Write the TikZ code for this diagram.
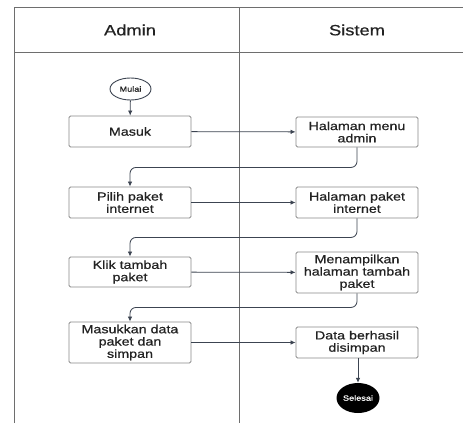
\documentclass[tikz,border=0pt]{standalone}
\usepackage{fontspec}
\usetikzlibrary{shapes.geometric,arrows.meta}
\newfontfamily\lanefont{Liberation Sans}[FakeStretch=1.22,FakeBold=0.6]
\definecolor{laneline}{HTML}{6E6E6E}
\definecolor{boxline}{HTML}{8A8A8A}
\definecolor{flowline}{HTML}{3C4451}
\definecolor{txt}{HTML}{222222}
\begin{document}
\begin{tikzpicture}[x=1pt,y=-1pt,
  lane/.style={draw=laneline,line width=0.9pt},
  actbox/.style={draw=boxline,line width=0.9pt,rounded corners=1.5pt,fill=white,
    minimum width=122pt,inner sep=0pt,align=center,text=txt,
    font=\lanefont\fontsize{11.7}{12.3}\selectfont},
  header/.style={text=txt,font=\lanefont\fontsize{15}{17}\selectfont},
  flow/.style={draw=flowline,line width=0.8pt,-{Latex[length=5pt,width=4.5pt]}},
  startnode/.style={ellipse,draw=flowline,line width=0.9pt,fill=white,
    minimum width=41pt,minimum height=22pt,inner sep=0pt,text=txt,
    font=\lanefont\fontsize{7.5}{8}\selectfont},
  endnode/.style={ellipse,fill=black,minimum width=43pt,minimum height=30pt,
    inner sep=0pt,text=white,font=\lanefont\fontsize{7.5}{8}\selectfont}]
\useasboundingbox (0,0) rectangle (463,423);
\fill[white] (0,0) rectangle (463,423);

% swimlane frame
\draw[lane] (14,423) -- (14,7) -- (463,7);
\draw[lane] (14,52) -- (463,52);
\draw[lane] (239,7) -- (239,423);
\node[header] (hadmin) at (130,30) {Admin};
\node[header] (hsistem) at (357,30) {Sistem};

% activities
\node[startnode] (mulai) at (130.5,89) {Mulai};
\node[actbox,minimum height=31pt] (masuk) at (130,131.5) {Masuk};
\node[actbox,minimum height=30pt] (hmenu) at (357,132) {Halaman menu\\admin};
\node[actbox,minimum height=31pt] (pilih) at (130,202.5) {Pilih paket\\internet};
\node[actbox,minimum height=31pt] (hpaket) at (357,202.5) {Halaman paket\\internet};
\node[actbox,minimum height=30pt] (klik) at (130,272) {Klik tambah\\paket};
\node[actbox,minimum height=41pt] (tampil) at (357,272.5) {Menampilkan\\halaman tambah\\paket};
\node[actbox,minimum height=41pt] (isi) at (130,342.5) {Masukkan data\\paket dan\\simpan};
\node[actbox,minimum height=31pt] (simpan) at (357,342.5) {Data berhasil\\disimpan};
\node[endnode] (selesai) at (358,398) {Selesai};

% control flow
\draw[flow] (mulai) -- (masuk);
\draw[flow] (masuk) -- (hmenu);
\draw[flow,rounded corners=6pt] (hmenu.south) -- ++(0,20) -| (pilih.north);
\draw[flow] (pilih) -- (hpaket);
\draw[flow,rounded corners=6pt] (hpaket.south) -- ++(0,19) -| (klik.north);
\draw[flow] (klik) -- (tampil);
\draw[flow,rounded corners=6pt] (tampil.south) -- ++(0,14) -| (isi.north);
\draw[flow] (isi) -- (simpan);
\draw[flow] (simpan.south -| selesai.north) -- (selesai.north);
\end{tikzpicture}
\end{document}
